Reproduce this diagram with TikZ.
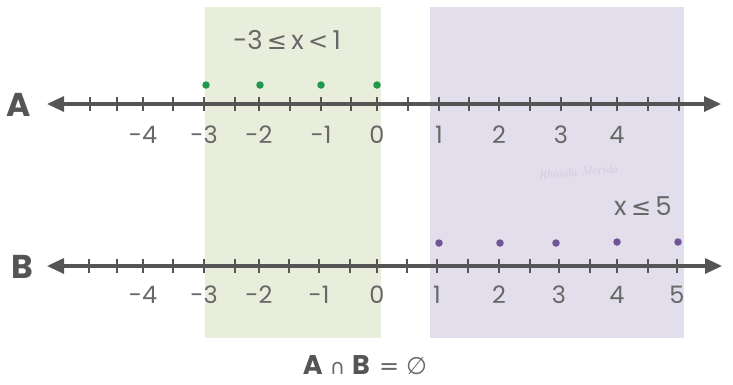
\documentclass[tikz,border=0pt]{standalone}
\usepackage{fontspec}
\usetikzlibrary{arrows.meta}
\newfontfamily\symf{DejaVu Sans}
\newfontfamily\adv{Poppins}
\definecolor{greenbg}{HTML}{E9EEDC}
\definecolor{purplebg}{HTML}{E3DEEB}
\definecolor{linecol}{HTML}{555555}
\definecolor{txtcol}{HTML}{686868}
\definecolor{dotgreen}{HTML}{1E9A4C}
\definecolor{dotpurple}{HTML}{6E5596}
\definecolor{signcol}{HTML}{CFC6DD}
\tikzset{
  numline/.style={draw=linecol, line width=3.2pt, {Triangle[length=17pt,width=15pt]}-{Triangle[length=17pt,width=15pt]}},
  tickmark/.style={draw=linecol, line width=1.8pt},
  ticklabel/.style={text=txtcol, font=\adv\fontsize{24}{24}\selectfont, inner sep=0pt},
  setname/.style={text=linecol, font=\adv\bfseries\fontsize{33}{33}\selectfont, inner sep=0pt},
  gdot/.style={circle, fill=dotgreen, minimum size=7.5pt, inner sep=0pt},
  pdot/.style={circle, fill=dotpurple, minimum size=7.5pt, inner sep=0pt},
  ineq/.style={text=txtcol, font=\adv\fontsize{26}{26}\selectfont, inner sep=0pt}
}
\newcommand\symb[2][24]{{\symf\fontsize{#1}{#1}\selectfont #2}}
\begin{document}
\begin{tikzpicture}[x=1pt,y=-1pt]
\useasboundingbox (0,0) rectangle (733,384);
% shaded regions
\fill[greenbg] (205,7) rectangle (381,338);
\fill[purplebg] (430,7) rectangle (684,338);
% inequality labels
\node[ineq] (ia) at (287,40) {-3\,\symb{≤}\,x\,\symb{<}\,1};
\node[ineq] (ib) at (643,206) {x\,\symb{≤}\,5};
\node[text=signcol, font=\itshape\fontsize{12}{12}\selectfont, rotate=5] (sig) at (578,172) {Rhonda Merida};
% line A
\coordinate (aL) at (47,104);
\coordinate (aR) at (721,104);
\draw[numline] (aL) -- (aR);
\foreach \t in {90,117,143,173,204,235,259,290,321,351,377,408,439,469,499,530,561,591,617,648,679}
  \draw[tickmark] (\t,97) -- (\t,111);
\foreach \v/\t in {-4/143,-3/204,-2/259,-1/321,0/377,1/439,2/499,3/561,4/617}
  \node[ticklabel] (la\t) at (\t,135) {\v};
\foreach \t in {206,260,321,377}
  \node[gdot] (da\t) at (\t,85) {};
\node[setname] (A) at (19,105) {A};
% line B
\coordinate (bL) at (47,266);
\coordinate (bR) at (722,266);
\draw[numline] (bL) -- (bR);
\foreach \t in {89,117,143,173,204,235,259,289,319,350,377,407,437,468,499,530,559,590,617,648,677}
  \draw[tickmark] (\t,259) -- (\t,273);
\foreach \v/\t in {-4/143,-3/204,-2/259,-1/319,0/377,1/437,2/499,3/559,4/617,5/677}
  \node[ticklabel] (lb\t) at (\t,295) {\v};
\foreach \t/\y in {439/243,500/243,556/243,617/242,678/242}
  \node[pdot] (db\t) at (\t,\y) {};
\node[setname] (B) at (22,267) {B};
% result
\node[inner sep=0pt] (res) at (365,365) {{\adv\bfseries\fontsize{27}{27}\selectfont\color{linecol}A}\hspace{7pt}{\color{txtcol}\symb[21]{∩}}\hspace{7pt}{\adv\bfseries\fontsize{27}{27}\selectfont\color{linecol}B}\hspace{9pt}{\color{txtcol}\symb{=}\hspace{7pt}\symb{∅}}};
\end{tikzpicture}
\end{document}
